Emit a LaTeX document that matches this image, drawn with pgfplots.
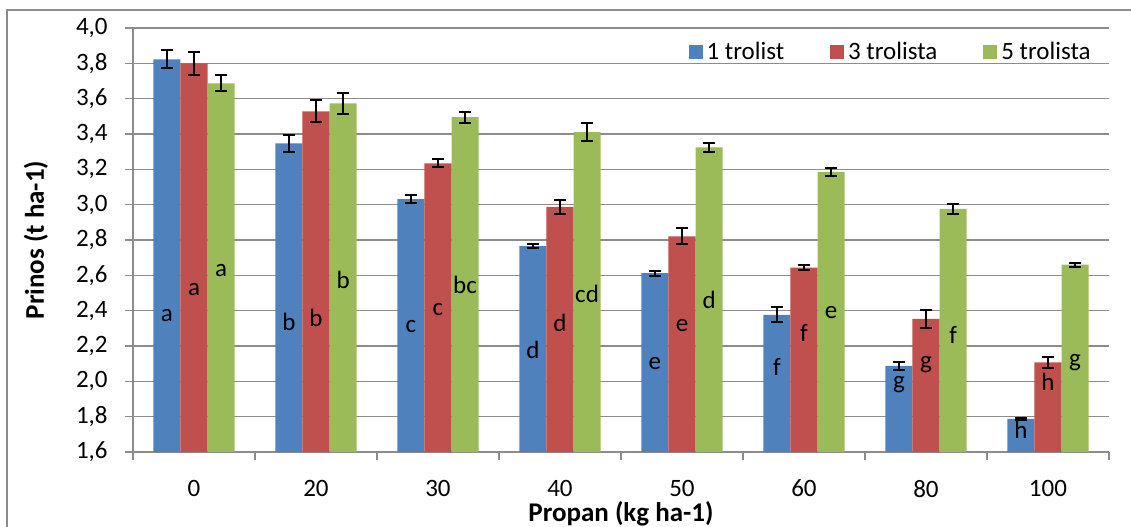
\documentclass[border=0pt]{standalone}
\usepackage{pgfplots}
\pgfplotsset{compat=1.18}
\usepackage{pgfplotstable}
\usepackage{fontspec}
\setmainfont{Carlito}
\definecolor{cblue}{HTML}{4F81BD}
\definecolor{cred}{HTML}{C0504D}
\definecolor{cgreen}{HTML}{9BBB59}
\definecolor{gridc}{gray}{0.55}

\pgfplotstableread{
x y e
0 3.823 0.050
1 3.347 0.047
2 3.032 0.025
3 2.766 0.012
4 2.612 0.015
5 2.376 0.042
6 2.087 0.023
7 1.787 0.008
}\blue
\pgfplotstableread{
x y e
0 3.800 0.065
1 3.528 0.062
2 3.234 0.023
3 2.987 0.042
4 2.821 0.045
5 2.644 0.015
6 2.353 0.049
7 2.108 0.030
}\red
\pgfplotstableread{
x y e
0 3.687 0.045
1 3.574 0.060
2 3.495 0.032
3 3.411 0.050
4 3.325 0.025
5 3.185 0.023
6 2.976 0.027
7 2.660 0.010
}\green
\pgfplotstableread{
x y lab
-0.222 2.370 a
0.778 2.336 b
1.778 2.308 c
2.778 2.178 d
3.778 2.099 e
4.778 2.082 f
5.778 1.981 g
6.778 1.725 h
0 2.517 a
1 2.359 b
2 2.404 c
3 2.330 d
4 2.314 e
5 2.274 f
6 2.093 g
7 1.997 h
0.222 2.630 a
1.222 2.574 b
2.222 2.546 bc
3.222 2.495 cd
4.222 2.462 d
5.222 2.387 e
6.222 2.263 f
7.222 2.104 g
}\letters

\begin{document}
\begin{tikzpicture}
\useasboundingbox (-66.5pt,-37pt) rectangle (499pt,226pt);
\draw[gridc, line width=0.6pt] (-63pt,221pt) rectangle (560pt,-80pt);
\begin{axis}[
  at={(0,0)}, anchor=south west,
  scale only axis, width=488pt, height=212pt,
  xmin=-0.5, xmax=7.5, ymin=1.6, ymax=4.0,
  axis x line*=bottom, axis y line*=left,
  axis line style={gridc, line width=0.6pt},
  xtick={0,...,7},
  xticklabels={0,20,30,40,50,60,80,100},
  major x tick style={draw=none},
  minor xtick={-0.5,0.5,...,7.5},
  minor x tick style={gridc, line width=0.6pt},
  minor tick length=4pt,
  ytick={1.6,1.8,...,4.01},
  major y tick style={gridc, line width=0.6pt},
  major tick length=4pt,
  tick align=outside,
  ymajorgrids,
  major grid style={gridc, line width=0.6pt},
  /pgf/number format/use comma,
  /pgf/number format/fixed,
  /pgf/number format/fixed zerofill,
  /pgf/number format/precision=1,
  /pgf/number format/assume math mode=true,
  tick label style={font=\fontsize{12.5}{14}\selectfont},
  xticklabel style={anchor=center, inner sep=0pt, yshift=-14.3pt},
  yticklabel style={anchor=east, inner sep=0pt, xshift=-8.5pt},
  xticklabel shift=0pt, yticklabel shift=0pt,
  ylabel={\textbf{Prinos (t ha-1)}},
  xlabel={\textbf{Propan (kg ha-1)}},
  label style={font=\fontsize{13.5}{15}\selectfont},
  ylabel style={at={(axis description cs:-0.0994,0.5)}, anchor=center},
  xlabel style={at={(axis description cs:0.5,-0.145)}, anchor=center},
  ybar, bar width=0.222,
  legend style={draw=none, fill=none, at={(1,0.943)}, anchor=east, xshift=-7pt, legend columns=3,
    font=\fontsize{12.5}{14}\selectfont, inner sep=0pt,
    /tikz/every even column/.append style={column sep=21pt}},
  legend image code/.code={\fill[#1] (0pt,-3.5pt) rectangle (7pt,3.5pt);},
  error bars/error bar style={black, line width=1pt},
  error bars/error mark options={black, line width=1pt, rotate=90, mark size=3pt},
]
\addplot[fill=cblue, draw=none, bar shift=-0.222,
  error bars/.cd, y dir=both, y explicit] table[x=x, y=y, y error=e]{\blue};
\addlegendentry{1 trolist}
\addplot[fill=cred, draw=none, bar shift=0,
  error bars/.cd, y dir=both, y explicit] table[x=x, y=y, y error=e]{\red};
\addlegendentry{3 trolista}
\addplot[fill=cgreen, draw=none, bar shift=0.222,
  error bars/.cd, y dir=both, y explicit] table[x=x, y=y, y error=e]{\green};
\addlegendentry{5 trolista}
\addplot[sharp plot, draw=none, mark=none, forget plot, bar shift=0,
  nodes near coords, point meta=explicit symbolic,
  nodes near coords align=center,
  every node near coord/.append style={font=\fontsize{12.5}{14}\selectfont, black, inner sep=0pt, anchor=center}]
  table[x=x, y=y, meta=lab]{\letters};
\end{axis}
\end{tikzpicture}
\end{document}
